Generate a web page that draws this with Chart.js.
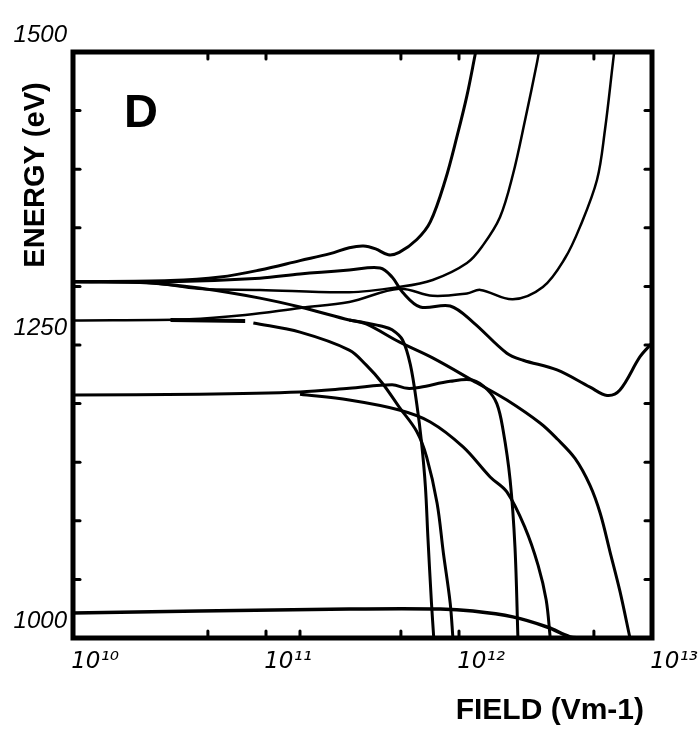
<!DOCTYPE html>
<html>
<head>
<meta charset="utf-8">
<script src="https://cdn.jsdelivr.net/npm/chart.js@4.4.1/dist/chart.umd.min.js"></script>
<style>
  body { margin: 0; background: #fff; }
  canvas { display: block; }
</style>
</head>
<body>
<canvas id="levels" width="700" height="733"></canvas>
<script>
// axis ticks / labels
const decadeTicks = [1e10, 1e11, 1e12, 1e13];
const decadeLabels = ['10¹⁰', '10¹¹', '10¹²', '10¹³'];
const topFieldTicks = [5e10, 1e11, 5e11, 1e12, 5e12];
const bottomFieldTicks = [5e10, 1e11, 1.5e11, 5e11, 1e12, 5e12];
const energyLabelTicks = [1000, 1250, 1500];
const energyMinorTicks = [1050, 1100, 1150, 1200, 1250, 1300, 1350, 1400, 1450];

// curves: field (V/m) and energy (eV)
const aField = [1e10, 3.2e10, 5.8e10, 9.3e10, 1.5e11, 2.15e11, 2.7e11, 3.2e11, 3.7e11, 4.3e11, 4.9e11, 6.05e11, 7.1e11, 8.5e11, 9.8e11, 1.1e12, 1.21e12, 1.24e12];
const aEnergy = [1304, 1305, 1308, 1314, 1322, 1328, 1333, 1334.5, 1332, 1327, 1329, 1340, 1355, 1391, 1429, 1463, 1497, 1506];

const bField = [1e10, 2.5e10, 4.5e10, 9.3e10, 2.7e11, 4.9e11, 7.3e11, 1.1e12, 1.33e12, 1.63e12, 1.9e12, 2.2e12, 2.54e12, 2.63e12];
const bEnergy = [1304, 1303, 1298, 1297, 1295, 1299.5, 1305.5, 1320, 1335, 1359, 1395, 1442, 1491.5, 1506];

const cField = [1e10, 4.0e10, 7.8e10, 1.5e11, 2.7e11, 4.9e11, 7.3e11, 1.1e12, 1.29e12, 1.9e12, 2.72e12, 3.54e12, 4.24e12, 5.19e12, 5.7e12, 6.28e12, 6.43e12];
const cEnergy = [1271, 1272, 1275.6, 1281.6, 1286.7, 1298, 1292, 1294, 1297, 1289, 1299.5, 1324, 1351, 1391, 1433, 1491.5, 1506];

const tailField = [3.2e10, 7.8e10];
const tailEnergy = [1271.3, 1270.5];

const dField = [1e10, 3.2e10, 9.3e10, 1.5e11, 2.7e11, 3.9e11, 4.5e11, 5.1e11, 6.3e11, 9.0e11, 1.18e12, 1.77e12, 2.15e12, 3.22e12, 4.78e12, 5.85e12, 6.82e12, 8.67e12, 1e13];
const dEnergy = [1304, 1304, 1307, 1310.6, 1314, 1315.7, 1308, 1295, 1282.4, 1283.3, 1269.6, 1243, 1237, 1228.7, 1214, 1207, 1211.6, 1240, 1251.7];

const eField = [1e10, 2.5e10, 4.5e10, 9.3e10, 1.5e11, 2.7e11, 3.3e11, 4.9e11, 7.3e11, 1.24e12, 1.77e12, 2.63e12, 3.22e12, 4.0e12, 4.78e12, 5.4e12, 6.05e12, 6.82e12, 7.69e12];
const eEnergy = [1304, 1303, 1298.6, 1290, 1282.4, 1271.3, 1268, 1252.6, 1239, 1217.6, 1203, 1183.4, 1170, 1153, 1130, 1106, 1074, 1040, 1000];

const hField = [2.7e11, 3.3e11, 4.0e11, 4.5e11, 5.1e11, 5.6e11, 6.05e11, 6.4e11, 6.7e11, 6.9e11, 7.2e11, 7.4e11];
const hEnergy = [1271.3, 1268.8, 1266, 1263, 1254.3, 1233, 1199, 1166.4, 1128.8, 1086, 1030, 1000];

const gField = [8.6e10, 1.5e11, 2.7e11, 3.3e11, 4.0e11, 4.9e11, 6.05e11, 6.8e11, 7.7e11, 8.3e11, 9.0e11, 9.3e11];
const gEnergy = [1268.8, 1261, 1245.7, 1233, 1217.6, 1197, 1176, 1154.4, 1115, 1072.5, 1030, 1000];

const iField = [1e10, 4.5e10, 1.5e11, 2.7e11, 4.5e11, 5.4e11, 6.3e11, 9.0e11, 1.18e12, 1.40e12, 1.57e12, 1.69e12, 1.84e12, 1.95e12, 2.02e12];
const iEnergy = [1207.3, 1208, 1210, 1213, 1216, 1213, 1214, 1219, 1220, 1212, 1200, 1178, 1135, 1077.6, 1000];

const jField = [1.5e11, 2.7e11, 4.9e11, 7.1e11, 1.05e12, 1.45e12, 1.77e12, 2.2e12, 2.57e12, 2.83e12, 2.97e12];
const jEnergy = [1208, 1203, 1194.5, 1184.3, 1163, 1137.4, 1124.6, 1094, 1062, 1032.4, 1000];

const lowField = [1e10, 4.5e10, 2.7e11, 8.0e11, 1.18e12, 1.9e12, 2.86e12, 3.76e12, 4.24e12];
const lowEnergy = [1021.3, 1023, 1024.7, 1024.7, 1023, 1018, 1009.4, 1001, 1000];

function curve(fields, energies, width) {
  return {
    data: fields.map((f, i) => ({ x: f, y: energies[i] })),
    borderColor: '#000',
    borderWidth: width,
    pointRadius: 0,
    tension: 0.35,
    fill: false
  };
}

const datasets = [
  curve(aField, aEnergy, 3),
  curve(bField, bEnergy, 2.5),
  curve(cField, cEnergy, 2.5),
  curve(tailField, tailEnergy, 4),
  curve(dField, dEnergy, 3),
  curve(eField, eEnergy, 3),
  curve(hField, hEnergy, 3),
  curve(gField, gEnergy, 3),
  curve(iField, iEnergy, 3),
  curve(jField, jEnergy, 3),
  curve(lowField, lowEnergy, 3.5)
];

// frame, inward ticks, titles and panel letter
const framePlugin = {
  id: 'frame',
  afterDraw(chart) {
    const { ctx, chartArea: a, scales: { x, y } } = chart;
    ctx.save();
    ctx.strokeStyle = '#000';
    ctx.lineWidth = 3;
    ctx.lineCap = 'round';
    const len = 7;
    topFieldTicks.forEach(v => {
      const px = x.getPixelForValue(v);
      ctx.beginPath(); ctx.moveTo(px, a.top); ctx.lineTo(px, a.top + len); ctx.stroke();
    });
    bottomFieldTicks.forEach(v => {
      const px = x.getPixelForValue(v);
      ctx.beginPath(); ctx.moveTo(px, a.bottom); ctx.lineTo(px, a.bottom - len); ctx.stroke();
    });
    energyMinorTicks.forEach(v => {
      const py = y.getPixelForValue(v);
      ctx.beginPath(); ctx.moveTo(a.left, py); ctx.lineTo(a.left + len, py); ctx.stroke();
      ctx.beginPath(); ctx.moveTo(a.right, py); ctx.lineTo(a.right - len, py); ctx.stroke();
    });
    ctx.lineWidth = 5;
    ctx.lineCap = 'butt';
    ctx.strokeRect(a.left, a.top, a.right - a.left, a.bottom - a.top);

    ctx.fillStyle = '#000';
    ctx.font = 'bold 47px "Liberation Sans", Arial, sans-serif';
    ctx.textBaseline = 'alphabetic';
    ctx.fillText('D', 124, 127);

    ctx.font = 'bold 30px "Liberation Sans", Arial, sans-serif';
    ctx.textAlign = 'right';
    ctx.fillText('FIELD (Vm-1)', 644, 719);

    ctx.translate(44, 175);
    ctx.rotate(-Math.PI / 2);
    ctx.textAlign = 'center';
    ctx.font = 'bold 29px "Liberation Sans", Arial, sans-serif';
    ctx.fillText('ENERGY (eV)', 0, 0);
    ctx.restore();
  }
};

new Chart(document.getElementById('levels'), {
  type: 'line',
  data: { datasets },
  options: {
    responsive: false,
    animation: false,
    devicePixelRatio: 1,
    layout: { padding: { top: 52, right: 48, left: 0, bottom: 0 } },
    plugins: { legend: { display: false }, tooltip: { enabled: false } },
    scales: {
      x: {
        type: 'logarithmic',
        min: 1e10,
        max: 1e13,
        afterBuildTicks: s => { s.ticks = decadeTicks.map(v => ({ value: v })); },
        afterFit: s => { s.height = 95; },
        grid: { display: false, drawTicks: false },
        border: { display: false },
        ticks: {
          autoSkip: false,
          maxRotation: 0,
          padding: 10,
          labelOffset: 22,
          color: '#000',
          font: { family: '"DejaVu Sans", sans-serif', size: 23, style: 'italic' },
          callback: (v, i) => decadeLabels[i]
        }
      },
      y: {
        type: 'linear',
        min: 1000,
        max: 1500,
        afterBuildTicks: s => { s.ticks = energyLabelTicks.map(v => ({ value: v })); },
        afterFit: s => { s.width = 73; },
        grid: { display: false, drawTicks: false },
        border: { display: false },
        ticks: {
          padding: 6,
          labelOffset: -17,
          color: '#000',
          font: { family: '"Liberation Sans", sans-serif', size: 24, style: 'italic' },
          callback: v => String(v)
        }
      }
    }
  },
  plugins: [framePlugin]
});
</script>
</body>
</html>
